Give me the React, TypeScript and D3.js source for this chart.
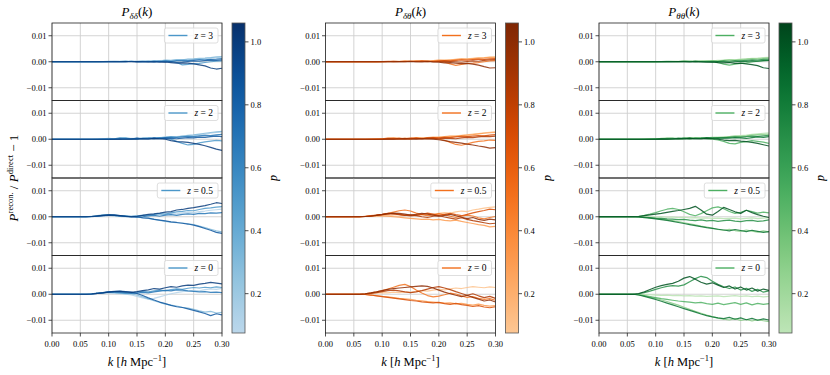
import React, { useEffect, useRef } from 'react';
import * as d3 from 'd3';

// wavenumbers k [h/Mpc]
const kValues = [0, 0.03, 0.05, 0.06, 0.07, 0.08, 0.09, 0.10, 0.11, 0.12, 0.13, 0.14, 0.15, 0.16,
  0.17, 0.18, 0.19, 0.20, 0.21, 0.22, 0.23, 0.24, 0.25, 0.26, 0.27, 0.28, 0.29, 0.30];
// one line per d value (colour)
const dValues = [0.1, 0.3, 0.5, 0.7, 0.85, 1.0];
const redshiftLabels = ['3', '2', '0.5', '0'];
const xTickValues = [0, 0.05, 0.1, 0.15, 0.2, 0.25, 0.3];
const yTickValues = [-0.01, 0, 0.01];
const cbarTickValues = [0.2, 0.4, 0.6, 0.8, 1.0];
const cbarRange = [0.075, 1.06];
const yRange = [-0.0149, 0.0149];
// series below are in units of 1e-3
const unit = 1e-3;

const ddZ3 = [
  [0, 0, 0, 0, 0, 0, 0, 0, 0.1, 0, 0.1, 0, 0.2, 0.1, 0.3, 0.2, 0.4, 0.5, 0.4, 0.7, 0.6, 0.9, 1.0, 1.2, 1.3, 1.5, 1.6, 1.8],
  [0, 0, 0, 0, 0, 0, 0.1, 0.2, 0.1, 0.2, 0.3, 0.1, 0.2, 0.3, 0.2, 0.4, 0.3, 0.6, 0.5, 0.8, 0.7, 1.0, 1.1, 1.3, 1.4, 1.6, 1.9, 2.0],
  [0, 0, 0, 0, 0, 0, 0, 0.1, 0.2, 0.1, 0, 0.2, 0.1, 0, 0.2, -0.1, 0, 0.2, 0.1, -0.3, -1.2, -1.0, -0.7, -0.6, -0.3, 0, 0.2, 0.3],
  [0, 0, 0, 0, 0, 0, 0, 0.1, 0, 0.1, 0, 0.2, 0, 0.1, 0, 0.2, 0.1, 0.3, 0.2, 0.4, 0.5, 0.4, 0.6, 0.8, 0.7, 0.9, 1.0, 1.2],
  [0, 0, 0, 0, 0, 0, 0, 0, 0.1, 0, 0.1, 0.1, -0.1, 0, 0.1, 0, 0.2, -0.1, 0.1, -0.2, -0.1, 0.1, 0.3, 0.2, 0.4, 0.6, 0.5, 0.7],
  [0, 0, 0, 0, 0, 0, 0, 0, 0, 0, 0.1, 0, 0.1, 0, -0.1, 0, -0.2, -0.1, -0.3, -0.5, -0.4, -0.5, -0.8, -1.2, -1.6, -2.4, -2.8, -2.5],
];
const ddZ2 = [
  [0, 0, 0, 0, 0, 0, 0.1, 0, 0.2, 0.1, 0.3, 0.2, 0.3, 0.2, 0.5, 0.4, 0.6, 0.8, 0.7, 1.0, 1.2, 1.3, 1.5, 1.8, 2.0, 2.3, 2.6, 2.8],
  [0, 0, 0, 0, 0, 0.1, 0.2, 0.3, 0.2, 0.4, 0.6, 0.3, 0.2, 0.5, 0.4, 0.3, 0.5, 0.8, 1.0, 0.8, 1.2, 1.5, 1.7, 2.0, 2.3, 2.6, 2.8, 3.0],
  [0, 0, 0, 0, 0, 0, 0.1, 0, 0.2, 0.5, 0.3, 0.1, 0, 0.3, 0.4, 0.2, 0.6, 0.3, 0, -0.8, -1.6, -2.2, -2.0, -1.4, -1.0, -0.7, -0.4, -0.6],
  [0, 0, 0, 0, 0, 0, 0, 0.1, 0, 0.2, 0.1, 0.2, 0.4, 0.2, 0.3, 0.5, 0.4, 0.6, 0.8, 0.7, 0.9, 1.1, 1.0, 1.3, 1.5, 1.4, 1.7, 1.9],
  [0, 0, 0, 0, 0, 0, 0, 0, 0.1, 0, 0.2, 0.1, 0.3, 0.2, 0.1, 0.3, 0.2, 0.4, 0.3, 0.2, 0.4, 0.6, 0.5, 0.8, 0.7, 1.0, 1.2, 1.0],
  [0, 0, 0, 0, 0, 0, 0, 0, 0, 0.1, 0, 0.1, 0, 0.2, 0.1, 0.3, 0.2, 0, -0.5, -0.9, -1.0, -1.2, -1.6, -2.0, -2.5, -3.1, -3.8, -4.3],
];
const ddZ05 = [
  [0, 0, 0, 0, 0.1, 0.3, 0.5, 0.4, 0.3, 0.2, 0.1, 0.2, 0.4, 0.3, 0.6, 0.8, 0.7, 1.0, 1.2, 1.1, 1.5, 1.7, 1.6, 2.0, 2.2, 2.5, 2.7, 2.9],
  [0, 0, 0, 0, 0.2, 0.4, 0.7, 0.6, 0.4, 0.1, 0, -0.1, 0.1, -0.3, -0.6, -0.9, -1.4, -1.8, -2.1, -2.3, -2.4, -2.7, -3.0, -3.6, -4.2, -4.8, -5.4, -5.8],
  [0, 0, 0, 0, 0.1, 0.3, 0.6, 0.8, 0.5, 0.3, 0.4, 0.2, 0.3, 0.6, 0.5, 0.9, 1.2, 1.0, 1.5, 1.9, 2.1, 2.4, 2.3, 2.8, 3.2, 3.4, 3.7, 3.9],
  [0, 0, 0, 0, 0, 0.2, 0.4, 0.5, 0.7, 0.4, 0.2, 0.1, -0.2, 0, 0.3, 0.5, 0.2, 0.6, 0.8, 0.5, 0.9, 1.1, 0.9, 1.3, 1.2, 1.5, 1.4, 1.6],
  [0, 0, 0, 0, 0.1, 0.2, 0.4, 0.6, 0.5, 0.3, 0.1, -0.1, 0, -0.4, -0.5, -1.0, -1.3, -1.6, -2.0, -2.2, -2.5, -2.8, -3.2, -3.8, -4.5, -5.2, -6.0, -6.4],
  [0, 0, 0, 0, 0.1, 0.3, 0.5, 0.7, 0.6, 0.4, 0.2, 0, 0.2, 0.5, 0.9, 1.1, 1.4, 1.8, 2.0, 2.6, 2.8, 3.2, 3.5, 3.9, 4.3, 4.8, 5.4, 5.1],
];
const ddZ0 = [
  [0, 0, 0, 0, 0.2, 0.4, 0.6, 0.5, 0.3, 0.2, 0, -0.3, -0.8, -1.4, -1.9, -1.6, -1.0, -0.4, 0.2, 0.6, 1.0, 1.2, 1.5, 1.3, 1.8, 2.1, 1.9, 2.3],
  [0, 0, 0, 0, 0.1, 0.3, 0.5, 0.7, 0.6, 0.4, 0.2, 0.1, -0.3, -1.0, -1.8, -2.5, -3.1, -3.8, -4.2, -4.6, -5.0, -5.3, -5.8, -6.4, -6.9, -6.6, -7.2, -7.0],
  [0, 0, 0, 0, 0.2, 0.4, 0.5, 0.8, 0.7, 0.5, 0.3, 0.5, 0.8, 1.1, 0.9, 1.3, 1.6, 1.4, 1.8, 2.1, 1.9, 2.3, 2.6, 2.4, 2.7, 2.5, 2.8, 2.6],
  [0, 0, 0, 0, 0.1, 0.3, 0.6, 0.9, 1.0, 0.8, 0.6, 0.3, 0.4, 0.7, 0.5, 0.9, 1.2, 1.5, 1.3, 1.7, 1.6, 1.3, 1.1, 0.9, 1.0, 0.7, 0.8, 0.6],
  [0, 0, 0, 0, 0.1, 0.3, 0.6, 0.9, 1.1, 1.2, 1.0, 0.8, 0.3, -0.5, -1.4, -2.2, -3.0, -3.6, -4.3, -4.8, -5.1, -5.6, -6.2, -6.8, -7.4, -8.2, -7.5, -7.9],
  [0, 0, 0, 0, 0.1, 0.3, 0.5, 0.8, 1.0, 1.1, 0.9, 0.7, 1.0, 1.4, 1.7, 2.2, 2.0, 2.5, 2.9, 2.7, 3.2, 3.5, 3.4, 3.9, 4.2, 4.6, 4.3, 4.0],
];

const dtZ3 = [
  [0, 0, 0, 0, 0, 0, 0, 0.1, 0, 0.1, 0.2, 0.1, 0.2, 0.3, 0.2, 0.4, 0.3, 0.5, 0.6, 0.5, 0.8, 1.0, 1.1, 1.3, 1.5, 1.6, 1.8, 2.0],
  [0, 0, 0, 0, 0, 0, 0.1, 0, 0.1, 0.2, 0.1, 0.3, 0.2, 0.1, 0.3, 0.2, 0.4, 0.6, 0.5, 0.7, 0.9, 1.1, 1.0, 1.2, 1.4, 1.5, 1.7, 1.6],
  [0, 0, 0, 0, 0, 0, 0, 0.1, 0.2, 0, 0.1, 0.2, 0.1, 0.3, 0.1, 0, 0.2, 0.1, -0.2, -0.8, -1.4, -1.0, -0.6, -0.5, -0.3, 0, 0.3, 0.4],
  [0, 0, 0, 0, 0, 0, 0, 0, 0.1, 0.2, 0.1, 0, 0.2, 0.1, 0.3, 0.2, 0.1, 0.3, 0.4, 0.3, 0.5, 0.7, 0.6, 0.8, 1.0, 0.9, 1.1, 1.2],
  [0, 0, 0, 0, 0, 0, 0, 0, 0, 0.1, 0, 0.1, 0.2, 0, 0.1, 0.2, 0, 0.1, 0.2, 0.1, 0, -0.2, 0.1, 0.3, 0.2, 0.5, 0.7, 0.8],
  [0, 0, 0, 0, 0, 0, 0, 0, 0, 0, 0.1, 0, 0.1, 0, -0.1, 0.1, -0.1, -0.2, -0.4, -0.3, -0.5, -0.7, -0.6, -0.9, -1.3, -1.9, -2.4, -2.3],
];
const dtZ2 = [
  [0, 0, 0, 0, 0, 0.1, 0, 0.2, 0.1, 0.3, 0.2, 0.4, 0.3, 0.5, 0.4, 0.6, 0.5, 0.8, 0.9, 1.1, 1.3, 1.5, 1.7, 2.0, 2.2, 2.5, 2.7, 2.9],
  [0, 0, 0, 0, 0, 0.1, 0.2, 0.1, 0.3, 0.5, 0.4, 0.2, 0.3, 0.5, 0.4, 0.6, 0.8, 0.7, 1.0, 1.2, 1.1, 1.4, 1.6, 1.8, 2.1, 2.3, 2.5, 2.6],
  [0, 0, 0, 0, 0, 0, 0.1, 0.2, 0.4, 0.3, 0.2, 0.3, 0.1, 0.4, 0.3, 0.2, 0.4, 0.1, -0.4, -1.2, -2.0, -2.3, -1.8, -1.2, -0.8, -0.6, -0.3, -0.4],
  [0, 0, 0, 0, 0, 0, 0, 0.1, 0.2, 0.1, 0.3, 0.2, 0.4, 0.3, 0.2, 0.4, 0.6, 0.5, 0.7, 0.6, 0.9, 1.1, 1.0, 1.2, 1.4, 1.3, 1.6, 1.8],
  [0, 0, 0, 0, 0, 0, 0, 0, 0.1, 0.2, 0.1, 0.2, 0.1, 0.3, 0.2, 0.4, 0.3, 0.2, 0.4, 0.3, 0.2, 0.5, 0.7, 0.6, 0.9, 1.1, 1.0, 1.2],
  [0, 0, 0, 0, 0, 0, 0, 0, 0.1, 0, 0.1, 0.2, 0.1, 0, 0.2, 0.1, 0, -0.2, -0.5, -0.9, -1.2, -1.5, -1.9, -2.2, -2.6, -2.9, -3.4, -3.2],
];
const dtZ05 = [
  [0, 0, 0, 0, 0.1, 0.3, 0.2, 0.4, 0.5, 0.3, 0.2, 0.4, 0.6, 0.5, 0.8, 1.1, 0.9, 1.3, 1.6, 1.4, 1.9, 2.2, 2.0, 2.6, 2.9, 3.3, 3.6, 3.8],
  [0, 0, 0, 0, 0.1, 0.2, 0.4, 0.3, 0.2, 0, -0.2, -0.4, -0.6, -0.8, -1.0, -0.9, -1.2, -1.0, -1.4, -1.6, -1.3, -1.8, -2.2, -2.6, -3.0, -3.3, -3.9, -3.7],
  [0, 0, 0, 0, 0.2, 0.4, 0.6, 0.9, 1.3, 1.8, 2.3, 2.6, 2.2, 1.4, 0.8, 0.4, 0.7, 1.2, 0.8, 0.2, -0.3, 0.2, 0.6, 0.3, -0.4, -0.8, -0.3, 0.1],
  [0, 0, 0, 0, 0.1, 0.3, 0.5, 0.8, 1.0, 1.2, 0.9, 0.6, 0.3, 0.5, 0.9, 1.4, 1.0, 0.5, 0.9, 1.3, 0.8, 0.4, 0.9, 1.5, 2.0, 2.4, 2.9, 2.7],
  [0, 0, 0, 0, 0.1, 0.3, 0.6, 0.9, 1.3, 1.1, 0.8, 0.5, 0.7, 0.4, 0, -0.3, 0.2, 0.4, -0.1, -0.5, -0.9, -0.4, -1.0, -1.5, -1.9, -2.3, -2.7, -2.5],
  [0, 0, 0, 0, 0.1, 0.2, 0.5, 0.8, 1.2, 1.4, 1.3, 1.0, 0.6, 0.9, 1.3, 1.0, 0.6, 0.2, 0.5, 0.9, 0.4, -0.2, -0.7, -0.3, -1.0, -1.4, -0.9, -1.2],
];
const dtZ0 = [
  [0, 0, 0, 0, 0.1, 0.2, 0.4, 0.6, 0.5, 0.8, 0.6, 0.9, 0.7, 1.1, 1.4, 1.2, 1.6, 1.9, 1.7, 2.1, 2.4, 2.2, 2.6, 2.9, 2.7, 2.5, 2.8, 2.6],
  [0, 0, 0, 0, -0.1, -0.3, -0.5, -0.8, -1.0, -1.3, -1.6, -1.8, -2.0, -2.3, -2.5, -2.8, -3.0, -3.2, -3.4, -3.3, -3.7, -3.5, -3.9, -4.2, -3.8, -4.3, -4.6, -4.4],
  [0, 0, 0, 0, 0.2, 0.5, 0.9, 1.4, 2.0, 2.7, 3.4, 3.8, 3.0, 1.6, 0.5, -0.5, -1.0, -0.7, -0.2, 0.4, 0.1, -0.6, -1.2, -0.9, -1.6, -2.0, -1.7, -2.3],
  [0, 0, 0, 0, -0.1, -0.3, -0.6, -0.9, -1.2, -1.5, -1.8, -2.1, -2.4, -2.6, -2.9, -3.1, -3.3, -3.1, -3.6, -3.9, -3.5, -4.0, -4.3, -4.7, -4.4, -4.9, -5.2, -4.8],
  [0, 0, 0, 0, 0.1, 0.3, 0.6, 1.0, 1.4, 1.6, 1.3, 0.9, 0.6, 0.9, 1.4, 2.0, 2.6, 2.9, 2.4, 1.8, 1.0, 0.3, -0.4, 0.2, -0.6, -1.3, -0.8, -1.6],
  [0, 0, 0, 0, 0.2, 0.5, 0.9, 1.4, 1.9, 2.2, 2.4, 2.6, 2.8, 3.0, 3.2, 3.0, 2.4, 1.6, 0.8, 0.2, -0.4, -0.9, -0.4, -1.2, -1.9, -2.6, -2.2, -3.0],
];

const ttZ3 = [
  [0, 0, 0, 0, 0, 0, 0, 0, 0.1, 0, 0.1, 0.2, 0.1, 0.2, 0.3, 0.2, 0.4, 0.3, 0.5, 0.6, 0.8, 0.7, 1.0, 1.1, 1.3, 1.4, 1.6, 1.7],
  [0, 0, 0, 0, 0, 0, 0, 0.1, 0, 0.1, 0.2, 0.1, 0.3, 0.2, 0.1, 0.3, 0.2, 0.4, 0.3, 0.5, 0.7, 0.6, 0.8, 1.0, 1.2, 1.1, 1.3, 1.5],
  [0, 0, 0, 0, 0, 0, 0, 0, 0.1, 0.2, 0.1, 0, 0.1, 0.2, 0, 0.1, 0.2, 0, -0.3, -0.9, -1.3, -0.9, -0.6, -0.4, -0.1, 0.2, 0.4, 0.5],
  [0, 0, 0, 0, 0, 0, 0, 0, 0, 0.1, 0, 0.1, 0.2, 0.1, 0.2, 0, 0.1, 0.2, 0.1, 0.3, 0.2, 0.4, 0.3, 0.5, 0.7, 0.6, 0.9, 1.0],
  [0, 0, 0, 0, 0, 0, 0, 0, 0, 0, 0.1, 0, 0.1, 0, 0.2, 0.1, 0, -0.1, 0.1, 0, -0.2, 0, 0.2, 0.1, 0.3, 0.2, 0.4, 0.5],
  [0, 0, 0, 0, 0, 0, 0, 0, 0, 0, 0, 0.1, 0, -0.1, 0, -0.1, -0.2, -0.1, -0.3, -0.4, -0.3, -0.6, -0.5, -0.8, -1.1, -1.5, -2.3, -2.6],
];
const ttZ2 = [
  [0, 0, 0, 0, 0, 0, 0.1, 0, 0.1, 0.2, 0.1, 0.3, 0.2, 0.4, 0.3, 0.5, 0.4, 0.6, 0.8, 0.7, 1.0, 1.2, 1.4, 1.6, 1.9, 2.1, 2.3, 2.5],
  [0, 0, 0, 0, 0, 0.1, 0.2, 0.1, 0.3, 0.4, 0.3, 0.2, 0.4, 0.6, 0.5, 0.3, 0.5, 0.7, 0.6, 0.8, 1.0, 1.2, 1.1, 1.3, 1.6, 1.8, 1.9, 2.0],
  [0, 0, 0, 0, 0, 0, 0.1, 0.2, 0.1, 0.3, 0.4, 0.2, 0.3, 0.1, 0.3, 0.4, 0.2, 0, -0.3, -0.8, -1.6, -1.8, -1.2, -0.9, -0.5, -0.8, -1.1, -1.6],
  [0, 0, 0, 0, 0, 0, 0, 0.1, 0.2, 0.1, 0.2, 0.4, 0.3, 0.2, 0.4, 0.3, 0.5, 0.4, 0.6, 0.5, 0.7, 0.9, 0.8, 1.0, 1.2, 1.1, 1.3, 1.5],
  [0, 0, 0, 0, 0, 0, 0, 0, 0.1, 0.2, 0.1, 0.2, 0.3, 0.4, 0.2, 0.3, 0.5, 0.4, 0.3, 0.5, 0.4, 0.6, 0.5, 0.3, 0.6, 0.9, 0.7, 1.0],
  [0, 0, 0, 0, 0, 0, 0, 0, 0.1, 0, 0.1, 0.2, 0.1, 0.3, 0.2, 0.1, 0.3, 0.2, 0, -0.3, -0.5, -0.4, -0.7, -0.9, -1.2, -1.6, -2.1, -2.6],
];
const ttZ05 = [
  [0, 0, 0, 0, 0, 0.1, 0, -0.1, 0, -0.2, -0.1, -0.3, -0.2, -0.4, -0.3, -0.5, -0.4, -0.6, -0.5, -0.7, -0.6, -0.5, -0.8, -0.6, -0.4, -0.7, -0.5, -0.3],
  [0, 0, 0, 0, -0.1, -0.2, -0.4, -0.6, -0.9, -1.2, -1.5, -1.9, -2.3, -2.7, -3.1, -3.6, -4.0, -4.4, -4.9, -5.2, -4.8, -5.3, -5.6, -5.1, -5.5, -5.9, -5.4, -5.8],
  [0, 0, 0, 0, 0.2, 0.5, 1.0, 1.6, 2.3, 2.9, 3.2, 2.8, 1.9, 0.9, 0.4, 1.2, 2.3, 3.4, 3.8, 3.1, 2.0, 1.3, 1.7, 2.5, 2.0, 1.4, 1.8, 1.5],
  [0, 0, 0, 0, -0.1, -0.2, -0.3, -0.5, -0.6, -0.8, -0.9, -1.1, -1.0, -1.3, -1.5, -1.2, -1.6, -1.4, -1.8, -1.5, -1.3, -1.7, -1.9, -1.5, -1.4, -1.8, -1.6, -1.2],
  [0, 0, 0, 0, -0.1, -0.3, -0.5, -0.8, -1.1, -1.4, -1.8, -2.2, -2.6, -3.0, -3.4, -3.8, -4.2, -4.5, -4.8, -5.1, -5.4, -4.9, -5.3, -5.7, -5.2, -5.6, -6.0, -5.7],
  [0, 0, 0, 0, 0.1, 0.4, 0.7, 1.0, 1.3, 1.7, 2.1, 2.4, 2.8, 3.2, 4.0, 2.6, 1.0, 0.6, 2.0, 3.6, 2.8, 1.9, 1.3, 2.5, 1.6, 0.8, 0.2, -0.3],
];
const ttZ0 = [
  [0, 0, 0, 0, 0, -0.1, -0.2, -0.3, -0.4, -0.3, -0.5, -0.4, -0.6, -0.5, -0.7, -0.6, -0.8, -0.7, -0.6, -0.9, -0.7, -0.5, -0.8, -0.6, -0.9, -0.7, -1.0, -0.8],
  [0, 0, 0, 0, -0.2, -0.6, -1.1, -1.6, -2.2, -2.8, -3.5, -4.2, -5.0, -5.8, -6.6, -7.3, -8.0, -8.6, -9.2, -9.6, -9.9, -9.4, -10.1, -9.7, -10.3, -9.8, -10.2, -10.5],
  [0, 0, 0, 0, -0.2, -0.5, -0.9, -1.3, -1.7, -2.0, -2.3, -2.6, -2.8, -3.0, -3.3, -3.1, -3.6, -3.9, -3.4, -4.0, -3.6, -3.2, -3.9, -3.3, -4.1, -3.5, -3.9, -3.6],
  [0, 0, 0, 0, 0.2, 0.6, 1.2, 1.9, 2.5, 3.0, 3.3, 3.1, 3.6, 4.8, 6.0, 6.9, 6.4, 5.0, 3.8, 2.9, 2.2, 2.8, 1.6, 2.3, 1.1, 1.9, 0.8, 1.3],
  [0, 0, 0, 0, -0.3, -0.8, -1.4, -2.0, -2.7, -3.4, -4.1, -4.8, -5.5, -6.2, -6.9, -7.6, -8.2, -8.7, -9.1, -9.4, -8.9, -9.6, -9.1, -9.8, -9.3, -10.0, -9.5, -9.9],
  [0, 0, 0, 0, 0.3, 0.9, 1.8, 2.7, 3.3, 3.8, 4.2, 5.0, 6.2, 6.8, 5.8, 4.6, 3.9, 4.4, 3.5, 2.6, 3.2, 2.0, 2.8, 1.6, 2.4, 1.2, 2.0, 1.5],
];

const spectra = [
  { sub: 'δδ', cmap: d3.interpolateBlues, panels: [ddZ3, ddZ2, ddZ05, ddZ0] },
  { sub: 'δθ', cmap: d3.interpolateOranges, panels: [dtZ3, dtZ2, dtZ05, dtZ0] },
  { sub: 'θθ', cmap: d3.interpolateGreens, panels: [ttZ3, ttZ2, ttZ05, ttZ0] },
];

const font = '"Liberation Serif", "DejaVu Serif", serif';

function drawFigure(node: SVGSVGElement) {
  const svg = d3.select(node);
  svg.selectAll('*').remove();

  const panelW = 170;
  const rowH = 77.5;
  const top = 23;
  const colLeft = [52, 325.5, 599];
  const cbarOffset = 180;
  const cbarW = 13;
  const cbarH = rowH * 4;

  const x = d3.scaleLinear().domain([0, 0.3]).range([0, panelW]);
  const y = d3.scaleLinear().domain(yRange).range([rowH, 0]);
  const cbarY = d3.scaleLinear().domain(cbarRange).range([top + cbarH, top]);
  const cnorm = d3.scaleLinear().domain(cbarRange).range([0.28, 1]);
  const line = d3.line<number>().x((_, i) => x(kValues[i])).y(v => y(v * unit));
  const defs = svg.append('defs');

  spectra.forEach((sp, ci) => {
    const col = svg.append('g').attr('transform', `translate(${colLeft[ci]},0)`);
    const color = (d: number) => sp.cmap(cnorm(d));

    // title
    const title = col.append('text')
      .attr('x', panelW / 2).attr('y', 16)
      .attr('text-anchor', 'middle')
      .attr('font-family', font).attr('font-size', 13);
    title.append('tspan').attr('font-style', 'italic').text('P');
    title.append('tspan').attr('font-style', 'italic').attr('font-size', 9).attr('dy', 3).text(sp.sub);
    title.append('tspan').attr('dy', -3).text('(');
    title.append('tspan').attr('font-style', 'italic').text('k');
    title.append('tspan').text(')');

    sp.panels.forEach((series, ri) => {
      const pg = col.append('g').attr('transform', `translate(0,${top + ri * rowH})`);
      const clipId = `clip-${ci}-${ri}`;
      defs.append('clipPath').attr('id', clipId)
        .append('rect').attr('width', panelW).attr('height', rowH);

      // grid
      pg.selectAll('line.gx').data(xTickValues).join('line')
        .attr('class', 'gx')
        .attr('x1', d => x(d)).attr('x2', d => x(d))
        .attr('y1', 0).attr('y2', rowH)
        .attr('stroke', '#cfcfcf').attr('stroke-width', 0.9);
      pg.selectAll('line.gy').data(yTickValues).join('line')
        .attr('class', 'gy')
        .attr('x1', 0).attr('x2', panelW)
        .attr('y1', d => y(d)).attr('y2', d => y(d))
        .attr('stroke', '#cfcfcf').attr('stroke-width', 0.9);

      // curves
      pg.append('g').attr('clip-path', `url(#${clipId})`)
        .selectAll('path').data(series).join('path')
        .attr('d', s => line(s))
        .attr('fill', 'none')
        .attr('stroke', (_, i) => color(dValues[i]))
        .attr('stroke-width', 1.2)
        .attr('stroke-opacity', 0.85)
        .attr('stroke-linejoin', 'round');

      // frame
      pg.append('rect').attr('width', panelW).attr('height', rowH)
        .attr('fill', 'none').attr('stroke', '#222').attr('stroke-width', 0.8);

      // y ticks
      const yt = pg.selectAll('g.yt').data(yTickValues).join('g')
        .attr('class', 'yt')
        .attr('transform', d => `translate(0,${y(d)})`);
      yt.append('line').attr('x1', -3.5).attr('x2', 0).attr('stroke', '#222').attr('stroke-width', 0.8);
      yt.append('text').attr('x', -5.5).attr('dy', 3)
        .attr('text-anchor', 'end')
        .attr('font-family', font).attr('font-size', 8.5)
        .text(d => d3.format('.2f')(d));

      // x ticks on bottom row
      if (ri === sp.panels.length - 1) {
        const xt = pg.selectAll('g.xt').data(xTickValues).join('g')
          .attr('class', 'xt')
          .attr('transform', d => `translate(${x(d)},${rowH})`);
        xt.append('line').attr('y1', 0).attr('y2', 3.5).attr('stroke', '#222').attr('stroke-width', 0.8);
        xt.append('text').attr('y', 13.5)
          .attr('text-anchor', 'middle')
          .attr('font-family', font).attr('font-size', 8.5)
          .text(d => d3.format('.2f')(d));
      }

      // legend
      const lg = pg.append('g');
      const box = lg.append('rect');
      const txt = lg.append('text').attr('font-family', font).attr('font-size', 9.5);
      txt.append('tspan').attr('font-style', 'italic').text('z');
      txt.append('tspan').text(` = ${redshiftLabels[ri]}`);
      const tw = (txt.node() as SVGTextElement).getComputedTextLength();
      const bw = tw + 35;
      const bh = 15;
      const bx = panelW - 4 - bw;
      const by = 5;
      box.attr('x', bx).attr('y', by).attr('width', bw).attr('height', bh)
        .attr('rx', 2).attr('fill', '#fff').attr('fill-opacity', 0.8)
        .attr('stroke', '#d6d6d6').attr('stroke-width', 0.8);
      lg.append('line')
        .attr('x1', bx + 4).attr('x2', bx + 23)
        .attr('y1', by + bh / 2).attr('y2', by + bh / 2)
        .attr('stroke', sp.cmap(0.6)).attr('stroke-width', 1.4);
      txt.attr('x', bx + 30).attr('y', by + bh / 2 + 3.2);
    });

    // x label
    const xl = col.append('text')
      .attr('x', panelW / 2).attr('y', 366)
      .attr('text-anchor', 'middle')
      .attr('font-family', font).attr('font-size', 12.5);
    xl.append('tspan').attr('font-style', 'italic').text('k');
    xl.append('tspan').text(' [');
    xl.append('tspan').attr('font-style', 'italic').text('h');
    xl.append('tspan').text(' Mpc');
    xl.append('tspan').attr('font-size', 8.5).attr('dy', -5).text('−1');
    xl.append('tspan').attr('dy', 5).text(']');

    // colorbar
    const gradId = `cbar-grad-${ci}`;
    const grad = defs.append('linearGradient').attr('id', gradId)
      .attr('x1', 0).attr('y1', 1).attr('x2', 0).attr('y2', 0);
    d3.range(0, 1.0001, 0.05).forEach(t => {
      grad.append('stop').attr('offset', t).attr('stop-color', sp.cmap(0.28 + 0.72 * t));
    });
    const cb = col.append('g').attr('transform', `translate(${cbarOffset},0)`);
    cb.append('rect').attr('x', 0).attr('y', top).attr('width', cbarW).attr('height', cbarH)
      .attr('fill', `url(#${gradId})`).attr('stroke', '#555').attr('stroke-width', 0.8);
    const ct = cb.selectAll('g.ct').data(cbarTickValues).join('g')
      .attr('class', 'ct')
      .attr('transform', d => `translate(${cbarW},${cbarY(d)})`);
    ct.append('line').attr('x1', 0).attr('x2', 3.5).attr('stroke', '#222').attr('stroke-width', 0.8);
    ct.append('text').attr('x', 5.5).attr('dy', 3)
      .attr('font-family', font).attr('font-size', 8.5)
      .text(d => d3.format('.1f')(d));
    cb.append('text')
      .attr('transform', `translate(${cbarW + 26},${top + cbarH / 2}) rotate(90)`)
      .attr('text-anchor', 'middle')
      .attr('font-family', font).attr('font-size', 12).attr('font-style', 'italic')
      .text('d');
  });

  // shared y label
  const yl = svg.append('text')
    .attr('transform', `translate(18,${top + rowH * 2}) rotate(-90)`)
    .attr('text-anchor', 'middle')
    .attr('font-family', font).attr('font-size', 13);
  yl.append('tspan').attr('font-style', 'italic').text('P');
  yl.append('tspan').attr('font-size', 8.5).attr('dy', -5).text('recon.');
  yl.append('tspan').attr('dy', 5).text(' / ');
  yl.append('tspan').attr('font-style', 'italic').text('P');
  yl.append('tspan').attr('font-size', 8.5).attr('dy', -5).text('direct');
  yl.append('tspan').attr('dy', 5).text(' − 1');
}

export default function App() {
  const ref = useRef<SVGSVGElement>(null);

  useEffect(() => {
    if (ref.current) drawFigure(ref.current);
  }, []);

  return (
    <svg
      ref={ref}
      width={830}
      height={375}
      style={{ position: 'absolute', left: 0, top: 0, background: '#fff' }}
    />
  );
}
